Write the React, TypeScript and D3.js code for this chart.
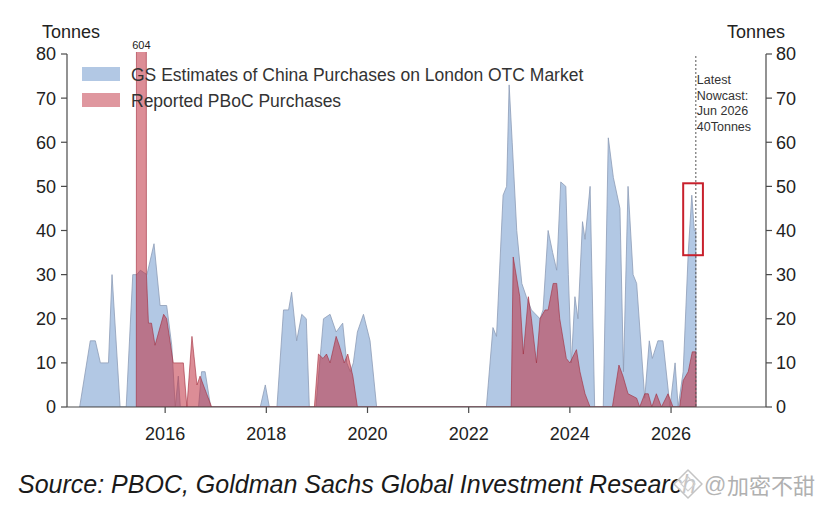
import React from 'react';
import * as d3 from 'd3';

// GS Estimates of China Purchases on London OTC Market (breakpoints: decimal year, tonnes)
const gsYears = [
  2014.31, 2014.52, 2014.62, 2014.72, 2014.88, 2014.95, 2015.11, 2015.23, 2015.36, 2015.44,
  2015.51, 2015.64, 2015.78, 2015.90, 2016.03, 2016.13, 2016.20, 2016.26, 2016.30, 2016.66,
  2016.72, 2016.79, 2016.90, 2017.88, 2017.98, 2018.06, 2018.21, 2018.34, 2018.44, 2018.50,
  2018.60, 2018.70, 2018.79, 2018.85, 2018.98, 2019.13, 2019.26, 2019.38, 2019.51, 2019.59,
  2019.66, 2019.72, 2019.80, 2019.92, 2020.05, 2020.18, 2022.35, 2022.48, 2022.55, 2022.68,
  2022.75, 2022.80, 2022.86, 2022.95, 2023.05, 2023.14, 2023.24, 2023.41, 2023.47, 2023.57,
  2023.66, 2023.74, 2023.82, 2023.92, 2023.97, 2024.03, 2024.10, 2024.16, 2024.25, 2024.30,
  2024.40, 2024.49, 2024.66, 2024.76, 2024.86, 2024.99, 2025.06, 2025.15, 2025.25, 2025.32,
  2025.48, 2025.57, 2025.63, 2025.74, 2025.84, 2025.98, 2026.08, 2026.14, 2026.24, 2026.34,
  2026.41, 2026.46, 2026.49, 2026.495,
];
const gsValues = [
  0, 15, 15, 10, 10, 30, 0, 0, 30, 30,
  31, 30, 37, 23, 23, 14, 0, 7, 0, 0,
  8, 8, 0, 0, 5, 0, 0, 22, 22, 26,
  15, 21, 20, 0, 0, 20, 21, 17, 19, 10,
  8, 10, 17, 21, 15, 0, 0, 18, 16, 48,
  50, 73, 60, 40, 28, 25, 22, 20, 22, 40,
  35, 31, 51, 50, 30, 10, 25, 20, 42, 38,
  50, 0, 0, 61, 52, 45, 8, 50, 30, 28,
  2, 15, 11, 15, 15, 0, 10, 0, 8, 35,
  48, 40, 40, 0,
];

// Reported PBoC Purchases
const pbocYears = [
  2015.43, 2015.45, 2015.61, 2015.63, 2015.67, 2015.73, 2015.80, 2015.97, 2016.03, 2016.16,
  2016.36, 2016.43, 2016.53, 2016.63, 2016.69, 2016.82, 2016.92, 2018.95, 2019.03, 2019.12,
  2019.19, 2019.26, 2019.38, 2019.44, 2019.54, 2019.61, 2019.71, 2019.80, 2022.84, 2022.88,
  2023.01, 2023.08, 2023.18, 2023.24, 2023.34, 2023.41, 2023.51, 2023.57, 2023.67, 2023.74,
  2023.80, 2023.93, 2024.00, 2024.13, 2024.20, 2024.30, 2024.40, 2024.84, 2024.97, 2025.05,
  2025.15, 2025.32, 2025.38, 2025.48, 2025.55, 2025.62, 2025.71, 2025.81, 2025.94, 2026.04,
  2026.17, 2026.24, 2026.34, 2026.42, 2026.49, 2026.495,
];
const pbocValues = [
  0, 604, 604, 30, 19, 19, 14, 21, 20, 10,
  10, 0, 16, 5, 7, 3, 0, 0, 12, 11,
  12, 10, 16, 14, 10, 12, 7, 0, 0, 34,
  25, 12, 25, 20, 10, 20, 22, 22, 28, 28,
  20, 11, 10, 13, 8, 3, 0, 0, 9.5, 7,
  3, 2, 0, 3, 3, 0, 3, 0, 3, 0,
  0, 6, 8, 12.5, 12.5, 0,
];

const yTicks = [0, 10, 20, 30, 40, 50, 60, 70, 80];
const xTicks = [2016, 2018, 2020, 2022, 2024, 2026];
const legendLabels = ['GS Estimates of China Purchases on London OTC Market', 'Reported PBoC Purchases'];
const annotationLines = ['Latest', 'Nowcast:', 'Jun 2026', '40Tonnes'];
const nowcastYear = 2026.49;
const boxRange = { x0: 2026.24, x1: 2026.63, y0: 34.4, y1: 50.7 };
const peakLabel = '604';
const peakYear = 2015.53;
const sourceText = 'Source: PBOC, Goldman Sachs Global Investment Research';
const watermarkText = '加密不甜';

const FONT = 'Liberation Sans, Arial, Helvetica, sans-serif';

export default function App() {
  const left = 67, right = 766, top = 54, bottom = 407;
  const x = d3.scaleLinear().domain([2014.06, 2027.877]).range([left, right]);
  const y = d3.scaleLinear().domain([0, 80]).range([bottom, top]);

  const areaFor = (years: number[], values: number[]) =>
    d3.area<number>()
      .x((_, i) => x(years[i]))
      .y0(y(0))
      .y1((v) => y(v))(values) || '';

  const gsPath = areaFor(gsYears, gsValues);
  const pbocPath = areaFor(pbocYears, pbocValues);

  const axisColor = '#4a4a4a';
  const textColor = '#222';

  return (
    <svg width={829} height={514} style={{ position: 'absolute', left: 0, top: 0, background: '#fff' }}
      fontFamily={FONT}>
      <defs>
        <clipPath id="plotClip">
          <rect x={left} y={top - 2} width={right - left} height={bottom - top + 2} />
        </clipPath>
      </defs>
      <rect x={0} y={0} width={829} height={514} fill="#fff" />

      <g clipPath="url(#plotClip)">
        <path d={gsPath} fill="#7ea3d2" fillOpacity={0.6} stroke="#8d9cb6" strokeWidth={1} strokeOpacity={0.8} />
        <path d={pbocPath} fill="#c0303f" fillOpacity={0.55} stroke="#a02a3a" strokeWidth={1} strokeOpacity={0.6} />
      </g>

      {/* axes */}
      <line x1={left} x2={left} y1={top} y2={bottom} stroke={axisColor} strokeWidth={1.2} />
      <line x1={right} x2={right} y1={top} y2={bottom} stroke={axisColor} strokeWidth={1.2} />
      <line x1={left} x2={right} y1={bottom} y2={bottom} stroke={axisColor} strokeWidth={1.2} />

      {yTicks.map((t) => (
        <g key={'yl' + t}>
          <line x1={left - 6} x2={left} y1={y(t)} y2={y(t)} stroke={axisColor} strokeWidth={1.2} />
          <text x={left - 11} y={y(t)} dy="0.36em" textAnchor="end" fontSize={18} fill={textColor}>{t}</text>
          <line x1={right} x2={right + 6} y1={y(t)} y2={y(t)} stroke={axisColor} strokeWidth={1.2} />
          <text x={right + 10} y={y(t)} dy="0.36em" textAnchor="start" fontSize={18} fill={textColor}>{t}</text>
        </g>
      ))}
      {xTicks.map((t) => (
        <g key={'x' + t}>
          <line x1={x(t)} x2={x(t)} y1={bottom} y2={bottom + 6} stroke={axisColor} strokeWidth={1.2} />
          <text x={x(t)} y={440} textAnchor="middle" fontSize={18} fill={textColor}>{t}</text>
        </g>
      ))}

      <text x={42} y={38} fontSize={18} fill={textColor}>Tonnes</text>
      <text x={727} y={38} fontSize={18} fill={textColor}>Tonnes</text>

      <text x={x(peakYear)} y={49} textAnchor="middle" fontSize={11} fill={textColor}>{peakLabel}</text>

      {/* legend */}
      <rect x={82} y={67} width={38} height={14} fill="#7ea3d2" fillOpacity={0.6} />
      <text x={131} y={81} fontSize={17.5} fill="#333">{legendLabels[0]}</text>
      <rect x={82} y={93} width={38} height={14} fill="#c0303f" fillOpacity={0.5} />
      <text x={131} y={107} fontSize={17.5} fill="#333">{legendLabels[1]}</text>

      {/* nowcast */}
      <line x1={x(nowcastYear)} x2={x(nowcastYear)} y1={top + 2} y2={bottom} stroke="#555" strokeWidth={1} strokeDasharray="2,2" />
      {annotationLines.map((l, i) => (
        <text key={l} x={x(nowcastYear) + 1} y={84 + i * 15.5} fontSize={12.5} fill="#333">{l}</text>
      ))}
      <rect x={x(boxRange.x0)} y={y(boxRange.y1)} width={x(boxRange.x1) - x(boxRange.x0)}
        height={y(boxRange.y0) - y(boxRange.y1)} fill="none" stroke="#c8202c" strokeWidth={2} />

      {/* source */}
      <text x={18} y={493} fontSize={25} fontStyle="italic" fill="#1a1a1a">{sourceText}</text>
      <g>
        <path d="M688,470 L702,484 L688,498 L674,484 Z" fill="#fff" fillOpacity={0.75} stroke="#c4c4c4" strokeWidth={1.5} strokeLinejoin="round" />
        <path d="M688,477 L695,484 L688,491 L681,484 Z" fill="none" stroke="#d0d0d0" strokeWidth={1.2} />
        <text x={704} y={492} fontSize={22} fill="#b5b5b5">@</text>
        <text x={727} y={494} fontSize={22} fill="#b0b0b0" fontFamily="Noto Sans CJK SC, sans-serif">{watermarkText}</text>
      </g>
    </svg>
  );
}
